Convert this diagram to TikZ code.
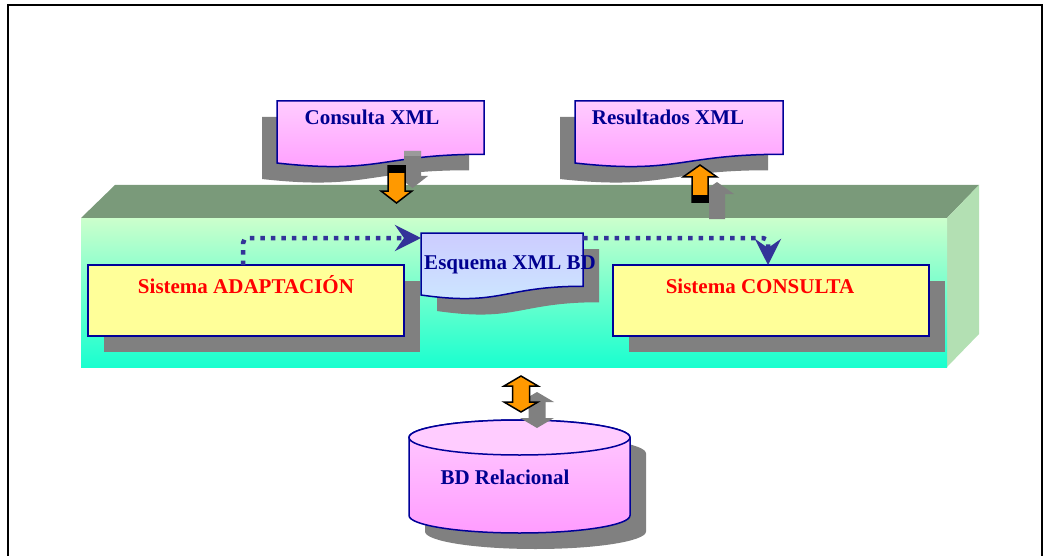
\documentclass[tikz,border=0pt]{standalone}
\usepackage{fontspec}
\setmainfont{Liberation Serif}
\usetikzlibrary{calc,arrows.meta,shadows}
\definecolor{txtnavy}{HTML}{000090}
\definecolor{bordernavy}{HTML}{000099}
\definecolor{connblue}{HTML}{333399}
\definecolor{shadowgray}{HTML}{808080}
\definecolor{shadowlight}{HTML}{9A9A9A}
\definecolor{sysyellow}{HTML}{FFFF99}
\definecolor{pinktop}{HTML}{FFCCFF}
\definecolor{pinkbot}{HTML}{FF9CFF}
\definecolor{bluetop}{HTML}{CCCCFF}
\definecolor{bluebot}{HTML}{CCE8FF}
\definecolor{topface}{HTML}{7A9A7A}
\definecolor{sideface}{HTML}{B3E0B3}
\definecolor{fronttop}{HTML}{CCFFCC}
\definecolor{frontbot}{HTML}{19FFCF}
\definecolor{blockorange}{HTML}{FF9900}
\newcommand\docshape[2]{%
  \path[#1] (#2.north west) -- (#2.north east)
    -- ($(#2.north east)!0.802!(#2.south east)$)
    .. controls ($(#2.north)!0.802!(#2.south)$) and ($(#2.north)!1.1075!(#2.south)$)
    .. ($(#2.north west)!0.934!(#2.south west)$) -- cycle;}
\tikzset{
  myshadow/.style 2 args={drop shadow={shadow xshift=#1,shadow yshift=#2,fill=shadowgray,opacity=1}},
  lbl/.style={font=\fontsize{21}{25}\selectfont\bfseries, inner sep=0pt, anchor=base},
  doclbl/.style={lbl, text=txtnavy},
  syslbl/.style={lbl, text=red},
  holder/.style={inner sep=0pt, outer sep=0pt, anchor=north west},
  sysbox/.style={holder, draw=bordernavy, line width=1.5pt, fill=sysyellow, myshadow={16pt}{-16pt}},
  docline/.style={draw=bordernavy, line width=1.5pt},
  conn/.style={draw=connblue, line width=4.5pt, dash pattern=on 4.5pt off 6pt, rounded corners=5pt,
     -{Stealth[length=26pt,width=26pt,inset=9pt,fill=connblue]}},
  blockarrow/.style={fill=blockorange, draw=black, line width=1.5pt, line join=miter},
}
\begin{document}
\begin{tikzpicture}[x=1pt,y=-1pt]
\useasboundingbox (0,0) rectangle (1043,556);
% frame
\draw[line width=2pt] (8,570) -- (8,5) -- (1042,5) -- (1042,570);

% 3D platform
\fill[topface] (81,218) -- (115,185) -- (979,185) -- (947,218) -- cycle;
\fill[sideface] (947,218) -- (979,185) -- (979,334) -- (947,367) -- cycle;
\shade[top color=fronttop, bottom color=frontbot] (81,218) rectangle (947,367);

% documents on top
\node[holder, minimum width=207pt, minimum height=66.4pt] (consq) at (277,101) {};
\node[holder, minimum width=208pt, minimum height=66.4pt] (resq) at (575,101) {};
\docshape{myshadow={-15pt}{-16pt}, top color=pinktop, bottom color=pinkbot, docline}{consq}
\docshape{myshadow={-15pt}{-16pt}, top color=pinktop, bottom color=pinkbot, docline}{resq}

% down arrow (Consulta XML)
\fill[shadowgray, shift={(16,-15)}] (388,166) -- (405,166) -- (405,191) -- (412,191) -- (396.5,203) -- (381,191) -- (388,191) -- cycle;
\fill[shadowlight] (404,151) rectangle (421,156);
\path[blockarrow] (388,166) -- (405,166) -- (405,191) -- (412,191) -- (396.5,203) -- (381,191) -- (388,191) -- cycle;
\fill[black] (388,166) rectangle (405,173);

% up arrow (Resultados XML)
\fill[shadowgray, shift={(17,17)}] (700,165) -- (717,177) -- (708,177) -- (708,202) -- (692,202) -- (692,177) -- (683,177) -- cycle;
\path[blockarrow] (700,165) -- (717,177) -- (708,177) -- (708,202) -- (692,202) -- (692,177) -- (683,177) -- cycle;
\fill[black] (692,195) rectangle (708,202);

% system boxes
\node[sysbox, minimum width=316pt, minimum height=71pt] (adapt) at (88,265) {};
\node[sysbox, minimum width=316pt, minimum height=71pt] (cons) at (613,265) {};

% schema document
\node[holder, minimum width=162pt, minimum height=66.4pt] (esq) at (421,233) {};
\docshape{myshadow={16pt}{-16pt}, top color=bluetop, bottom color=bluebot, docline}{esq}

% dotted connectors
\draw[conn] ([xshift=-3pt]adapt.north) |- ([yshift=-5pt]esq.north west);
\draw[conn] ([yshift=-5pt]esq.north east) -| ([xshift=-3pt]cons.north);

% database cylinder
\node[inner sep=0pt, outer sep=0pt, minimum width=221pt, minimum height=113pt, anchor=north] (db) at (519.5,420) {};
\path[myshadow={16pt}{-16pt}, top color=pinktop, bottom color=pinkbot, docline]
  (409,437.5) -- (409,515.5) arc[start angle=180, end angle=0, x radius=110.5, y radius=17.5]
  -- (630,437.5) arc[start angle=0, end angle=-180, x radius=110.5, y radius=17.5] -- cycle;
\path[fill=pinktop, docline] (519.5,437.5) ellipse [x radius=110.5, y radius=17.5];

% double arrow
\fill[shadowgray, shift={(16,16)}] (521,376) -- (538,386) -- (529.5,386) -- (529.5,402) -- (538,402) -- (521,412) -- (504,402) -- (512.5,402) -- (512.5,386) -- (504,386) -- cycle;
\path[blockarrow] (521,376) -- (538,386) -- (529.5,386) -- (529.5,402) -- (538,402) -- (521,412) -- (504,402) -- (512.5,402) -- (512.5,386) -- (504,386) -- cycle;

% labels
\node[doclbl] (consqt) at (372,125) {Consulta XML};
\node[doclbl] (resqt) at (668,125) {Resultados XML};
\node[doclbl] (esqt) at (510,269) {Esquema XML BD};
\node[syslbl] (adaptt) at (246,293) {Sistema ADAPTACIÓN};
\node[syslbl] (const) at (760,293) {Sistema CONSULTA};
\node[doclbl] (dbt) at (505,484) {BD Relacional};
\end{tikzpicture}
\end{document}
